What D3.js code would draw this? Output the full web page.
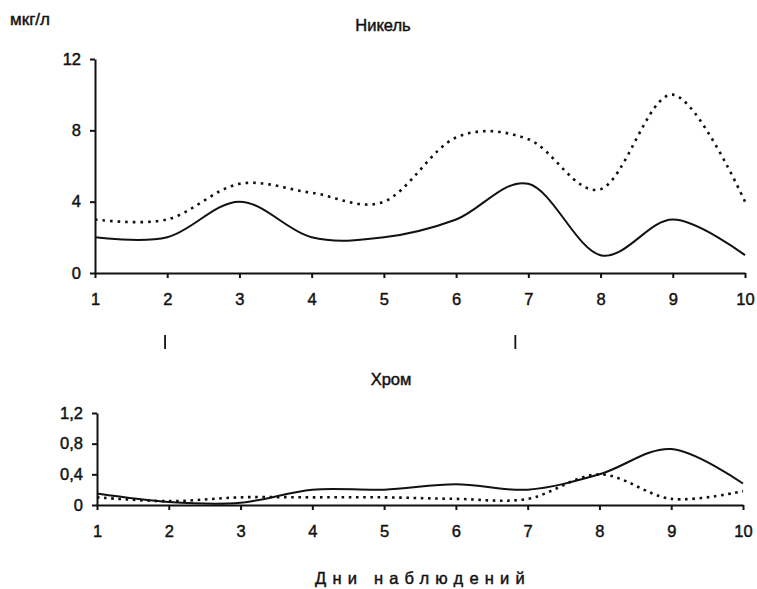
<!DOCTYPE html>
<html>
<head>
<meta charset="utf-8">
<script src="https://cdn.jsdelivr.net/npm/d3@7"></script>
<style>
  body { margin: 0; background: #fff; }
  text { font-family: "Liberation Sans", Arial, sans-serif; fill: #111; stroke: #111; stroke-width: 0.45px; }
</style>
</head>
<body>
<svg id="chart" width="757" height="589"></svg>
<script>
// data
var days = [1, 2, 3, 4, 5, 6, 7, 8, 9, 10];
var niSolid = [2, 2, 4, 2, 2, 3, 5, 1, 3, 1];
var niDotted = [3, 3, 5, 4.5, 4, 7.6, 7.5, 4.7, 10, 4];
var crSolid = [0.15, 0.04, 0.03, 0.2, 0.2, 0.27, 0.2, 0.4, 0.73, 0.28];
var crDotted = [0.1, 0.05, 0.1, 0.1, 0.1, 0.08, 0.08, 0.4, 0.08, 0.18];
var niTicks = [0, 4, 8, 12];
var crTicks = [0, 0.4, 0.8, 1.2];
var markerDays = [1.97, 6.82];

window.onload = () => {

  var svg = d3.select("#chart");

  // comma as decimal separator
  var ru = d3.formatLocale({ decimal: ",", thousands: " ", grouping: [3], currency: ["", ""] });
  var fmt = function (d) { return d === 0 ? "0" : ru.format(".1f")(d) };

  // smoothed line like the spreadsheet one
  function drawPanel(xr, yr, ymax, ticks, tickFmt, solid, dotted, dash) {
    var x = d3.scaleLinear().domain([1, 10]).range(xr);
    var y = d3.scaleLinear().domain([0, ymax]).range(yr);

    var xAxis = svg.append("g")
      .attr("transform", "translate(0," + yr[0] + ")")
      .call(d3.axisBottom(x).tickValues(days).tickSize(5).tickSizeOuter(0).tickPadding(15));
    var yAxis = svg.append("g")
      .attr("transform", "translate(" + xr[0] + ",0)")
      .call(d3.axisLeft(y).tickValues(ticks).tickFormat(tickFmt).tickSize(5).tickSizeOuter(0).tickPadding(9));

    [xAxis, yAxis].forEach(function (a) {
      a.selectAll("path, line").attr("stroke", "#111").attr("stroke-width", 2);
      a.selectAll("text").style("font-size", "16.5px").attr("fill", "#111");
    });

    var line = d3.line()
      .x(function (d, i) { return x(days[i]) })
      .y(function (d) { return y(d) })
      .curve(d3.curveCatmullRom.alpha(0));

    svg.append("path").datum(solid)
      .attr("d", line)
      .attr("fill", "none").attr("stroke", "#111").attr("stroke-width", 2);
    svg.append("path").datum(dotted)
      .attr("d", line)
      .attr("fill", "none").attr("stroke", "#111").attr("stroke-width", 2.6)
      .attr("stroke-dasharray", dash);

    return x;
  }

  // Никель
  var xTop = drawPanel([95, 745], [273, 59], 12, niTicks, d3.format("d"), niSolid, niDotted, "2.6,5");

  // Хром
  drawPanel([97, 743], [505, 413], 1.2, crTicks, fmt, crSolid, crDotted, "2.6,4.6");

  // small markers between the panels
  svg.selectAll("line.mark")
    .data(markerDays)
    .enter()
    .append("line")
    .attr("class", "mark")
    .attr("x1", function (d) { return xTop(d) })
    .attr("x2", function (d) { return xTop(d) })
    .attr("y1", 335).attr("y2", 349)
    .attr("stroke", "#111").attr("stroke-width", 1.8);

  // titles and labels
  svg.append("text")
    .attr("x", 10).attr("y", 25)
    .style("font-size", "17px")
    .text("мкг/л");

  svg.append("text")
    .attr("x", 383).attr("y", 31)
    .attr("text-anchor", "middle")
    .style("font-size", "16.5px")
    .text("Никель");

  svg.append("text")
    .attr("x", 391).attr("y", 385)
    .attr("text-anchor", "middle")
    .style("font-size", "16.5px")
    .text("Хром");

  svg.append("text")
    .attr("x", 423).attr("y", 584)
    .attr("text-anchor", "middle")
    .style("font-size", "16.5px")
    .style("letter-spacing", "6.2px")
    .text("Дни наблюдений");
};
</script>
</body>
</html>
